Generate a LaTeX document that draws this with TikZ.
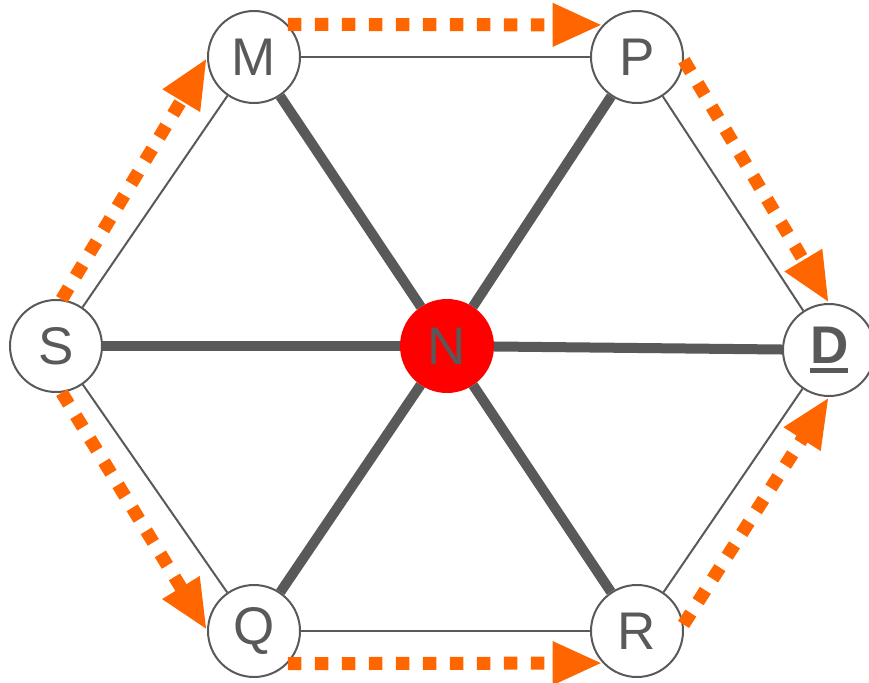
\documentclass[tikz,border=0pt]{standalone}
\usepackage{fontspec}
\setmainfont{Liberation Sans}
\usetikzlibrary{arrows.meta}
\definecolor{dgray}{HTML}{595959}
\definecolor{orng}{HTML}{FF6600}
\definecolor{nred}{HTML}{FF0000}
\newcommand\ulD{\leavevmode\rlap{\textbf{D}}\rule[-9pt]{38pt}{4.5pt}}
\begin{document}
\begin{tikzpicture}[x=1pt,y=-1pt,
  vtx/.style={circle, draw=dgray, line width=2pt, fill=white, minimum size=92pt, inner sep=0pt,
    text=dgray, font=\fontsize{53}{60}\selectfont},
  ctr/.style={vtx, draw=nred, fill=nred},
  thin/.style={draw=dgray, line width=2pt},
  thick/.style={draw=dgray, line width=10pt},
  flow/.style={draw=orng, line width=13pt, dash pattern=on 13.5pt off 13.5pt,
    -{Triangle[length=50pt,width=40pt,fill=orng]}}]
\useasboundingbox (0,0) rectangle (869,682);
\node[vtx] (M) at (254,57) {M};
\node[vtx] (P) at (637,57) {P};
\node[vtx] (S) at (56,346) {S};
\node[ctr] (N) at (447,346) {N};
\node[vtx] (D) at (829,350) {\ulD};
\node[vtx] (Q) at (254,631) {Q};
\node[vtx] (R) at (637,631) {R};
% thin ring
\draw[thin] (M) -- (P);
\draw[thin] (Q) -- (R);
\draw[thin] (S) -- (M);
\draw[thin] (S) -- (Q);
\draw[thin] (P) -- (D);
\draw[thin] (R) -- (D);
% thick spokes
\draw[thick] (N) -- (M);
\draw[thick] (N) -- (P);
\draw[thick] (N) -- (S);
\draw[thick] (N) -- (D);
\draw[thick] (N) -- (Q);
\draw[thick] (N) -- (R);
% flows
\draw[flow] (S.83) -- (M.181);
\draw[flow] (M.44) -- (P.137);
\draw[flow] (P.-4) -- (D.90);
\draw[flow] (S.-83) -- (Q.179);
\draw[flow] (Q.-44) -- (R.-137);
\draw[flow] (R.8) -- (D.-90);
\end{tikzpicture}
\end{document}
